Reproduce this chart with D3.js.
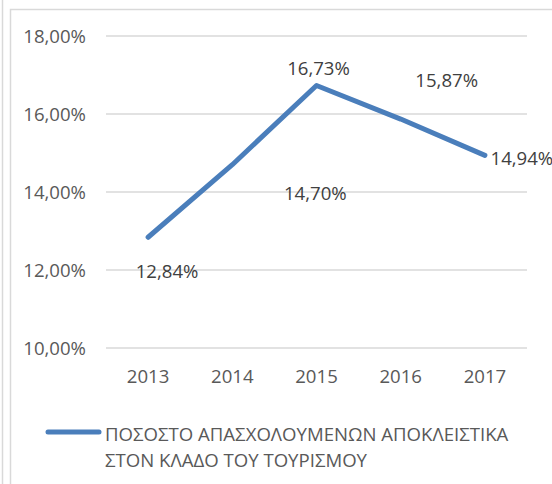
<!DOCTYPE html>
<html><head><meta charset="utf-8">
<script src="https://cdn.jsdelivr.net/npm/d3@7"></script>
<style>body{margin:0;background:#fff;}svg{display:block;font-family:"Open Sans",sans-serif;}</style>
</head><body>
<svg id="c" width="552" height="484"></svg>
<script>
const years = ["2013","2014","2015","2016","2017"];
const values = [12.84, 14.70, 16.73, 15.87, 14.94];
const labels = ["12,84%","14,70%","16,73%","15,87%","14,94%"];
const yTicks = [10, 12, 14, 16, 18];
const seriesName = ["ΠΟΣΟΣΤΟ ΑΠΑΣΧΟΛΟΥΜΕΝΩΝ ΑΠΟΚΛΕΙΣΤΙΚΑ", "ΣΤΟΝ ΚΛΑΔΟ ΤΟΥ ΤΟΥΡΙΣΜΟΥ"];
// label placement offsets relative to the point (px)
const labelOffsets = [[19,34],[83,29],[2,-17],[46,-39],[37,3]];

const svg = d3.select("#c");
const txt = "#595959";
const fs = "18.6px";
// borders
svg.append("line").attr("x1",2.5).attr("x2",2.5).attr("y1",0).attr("y2",484).attr("stroke","#d9d9d9").attr("stroke-width",1.5);
svg.append("rect").attr("x",10.5).attr("y",9.5).attr("width",600).attr("height",600).attr("fill","none").attr("stroke","#d9d9d9").attr("stroke-width",1.5);

const x = d3.scaleBand().domain(years).range([106,527]);
const y = d3.scaleLinear().domain([10,18]).range([348,36]);

const grid = svg.append("g");
yTicks.forEach(t=>{
  grid.append("line").attr("x1",106).attr("x2",527).attr("y1",y(t)).attr("y2",y(t)).attr("stroke","#d9d9d9").attr("stroke-width",1.5);
});
const yAxis = d3.axisLeft(y).tickValues(yTicks).tickSize(0).tickPadding(0)
  .tickFormat(d=>d3.format(".2f")(d).replace(".",",")+"%");
const gy = svg.append("g").attr("transform","translate(86,0)").call(yAxis);
gy.select(".domain").remove();
gy.selectAll("text").attr("fill",txt).style("font-size",fs).style("font-family","Open Sans").attr("dy","0.36em");

const xAxis = d3.axisBottom(x).tickSize(0).tickPadding(0);
const gx = svg.append("g").attr("transform","translate(0,376)").call(xAxis);
gx.select(".domain").remove();
gx.selectAll("text").attr("fill",txt).style("font-size",fs).style("font-family","Open Sans").attr("dy","0.36em");

const cx = d => x(d)+x.bandwidth()/2;
const line = d3.line().x((d,i)=>cx(years[i])).y(d=>y(d));
svg.append("path").datum(values).attr("d",line).attr("fill","none")
  .attr("stroke","#4a7ebb").attr("stroke-width",5).attr("stroke-linecap","round").attr("stroke-linejoin","round");

svg.append("g").selectAll("text").data(values).join("text")
  .attr("x",(d,i)=>cx(years[i])+labelOffsets[i][0])
  .attr("y",(d,i)=>y(d)+labelOffsets[i][1])
  .attr("dy","0.36em").attr("text-anchor","middle")
  .attr("fill","#404040").style("font-size",fs).text((d,i)=>labels[i]);

// legend
const lg = svg.append("g");
lg.append("line").attr("x1",48).attr("x2",99).attr("y1",432).attr("y2",432)
  .attr("stroke","#4a7ebb").attr("stroke-width",5).attr("stroke-linecap","round");
lg.selectAll("text").data(seriesName).join("text")
  .attr("x",105).attr("y",(d,i)=>434.5+i*25.5).attr("dy","0.36em")
  .attr("fill",txt).style("font-size",fs).text(d=>d);
</script>
</body></html>
